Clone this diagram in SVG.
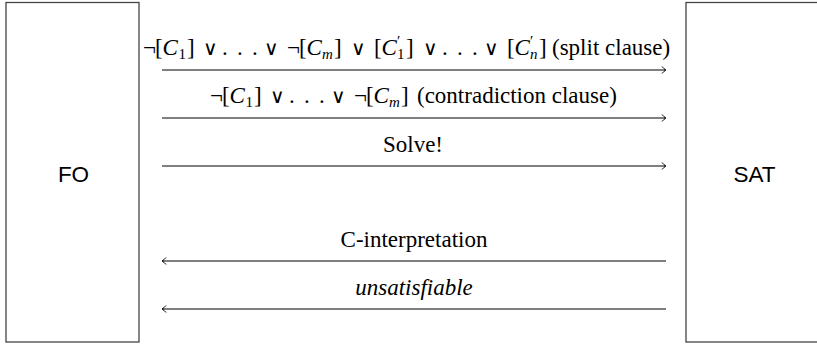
<svg xmlns="http://www.w3.org/2000/svg" width="817" height="345" viewBox="0 0 817 345">
<style>
.box{fill:#fff;stroke:#444;stroke-width:1.3}
.nl{font-family:"Liberation Sans",Arial,sans-serif;font-size:22.5px;fill:#000;text-anchor:middle}
.lb{font-family:"Liberation Serif","Times New Roman",serif;font-size:23px;fill:#000}
.c{text-anchor:middle}
.it{font-style:italic}
.sub{font-size:15px}
.or{font-family:"DejaVu Sans",sans-serif;font-weight:200;font-size:20px}
.pr{font-size:15px}
.ar{stroke:#000;stroke-width:1.2;fill:none}
.head{stroke:#000;stroke-width:1;fill:none}
</style>
<rect width="817" height="345" fill="#fff"/>
<g id="FO"><rect class="box" x="6" y="2.5" width="133" height="339.5"/><text class="nl" x="73.5" y="182">FO</text></g>
<g id="SAT"><rect class="box" x="686" y="2.5" width="140" height="339.5"/><text class="nl" x="754.5" y="182">SAT</text></g>
<g id="connectors">
<line class="ar" x1="162" y1="70" x2="665" y2="70"/><path class="head" d="M662,66.5 Q664,69 666,70 Q664,71 662,73.5"/>
<line class="ar" x1="162" y1="118" x2="665" y2="118"/><path class="head" d="M662,114.5 Q664,117 666,118 Q664,119 662,121.5"/>
<line class="ar" x1="162" y1="166" x2="665" y2="166"/><path class="head" d="M662,162.5 Q664,165 666,166 Q664,167 662,169.5"/>
<line class="ar" x1="163" y1="261" x2="666" y2="261"/><path class="head" d="M166,257.5 Q164,260 162,261 Q164,262 166,264.5"/>
<line class="ar" x1="163" y1="309" x2="666" y2="309"/><path class="head" d="M166,305.5 Q164,308 162,309 Q164,310 166,312.5"/>
</g>
<g id="labels">
<text class="lb" y="55"><tspan x="143">¬</tspan><tspan x="155">[</tspan><tspan class="it" x="162.5">C</tspan><tspan class="sub" x="178.5" dy="4">1</tspan><tspan x="187" dy="-4">]</tspan><tspan class="or" x="203">∨</tspan><tspan x="222">.</tspan><tspan x="237">.</tspan><tspan x="252">.</tspan><tspan class="or" x="264">∨</tspan><tspan x="287">¬</tspan><tspan x="299">[</tspan><tspan class="it" x="306.5">C</tspan><tspan class="sub it" x="322" dy="4">m</tspan><tspan x="334" dy="-4">]</tspan><tspan class="or" x="351">∨</tspan><tspan x="374">[</tspan><tspan class="it" x="381.5">C</tspan><tspan class="pr" x="397" dy="-9">′</tspan><tspan class="sub" x="397" dy="13">1</tspan><tspan x="406" dy="-4">]</tspan><tspan class="or" x="423">∨</tspan><tspan x="442">.</tspan><tspan x="457">.</tspan><tspan x="472">.</tspan><tspan class="or" x="484">∨</tspan><tspan x="507">[</tspan><tspan class="it" x="514.5">C</tspan><tspan class="pr" x="530" dy="-9">′</tspan><tspan class="sub it" x="530" dy="13">n</tspan><tspan x="539" dy="-4">]</tspan><tspan x="552">(split clause)</tspan></text>
<text class="lb" y="103"><tspan x="210">¬</tspan><tspan x="222">[</tspan><tspan class="it" x="229.5">C</tspan><tspan class="sub" x="245.5" dy="4">1</tspan><tspan x="254" dy="-4">]</tspan><tspan class="or" x="270">∨</tspan><tspan x="289">.</tspan><tspan x="304">.</tspan><tspan x="319">.</tspan><tspan class="or" x="331">∨</tspan><tspan x="354">¬</tspan><tspan x="366">[</tspan><tspan class="it" x="373.5">C</tspan><tspan class="sub it" x="389" dy="4">m</tspan><tspan x="401" dy="-4">]</tspan><tspan x="417">(contradiction clause)</tspan></text>
<text class="lb c" x="413" y="152">Solve!</text>
<text class="lb c" x="414" y="247">C-interpretation</text>
<text class="lb c it" x="414" y="295">unsatisfiable</text>
</g>
</svg>
